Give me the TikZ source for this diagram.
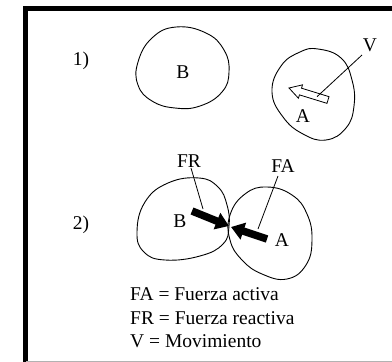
\documentclass[tikz,border=0pt]{standalone}
\usepackage{fontspec}
\setmainfont{Liberation Serif}
\usetikzlibrary{calc,arrows.meta}
\begin{document}
\begin{tikzpicture}[x=1pt,y=-1pt,
  lbl/.style={inner sep=0pt, font=\fontsize{19.5}{23}\selectfont},
  blob/.style={draw, line width=0.9pt},
  pointer/.style={draw, line width=0.8pt},
  push/.style={line width=7.5pt, -{Triangle[length=13pt,width=17pt]}},
  frameline/.style={line width=4.5pt}
]
\useasboundingbox (0,0) rectangle (392,362);
% frame
\draw[frameline] (25.5,362) -- (25.5,8.5) -- (392,8.5);
\draw[gray!60, line width=0.8pt] (26,361) -- (392,361);

% ---------- 1) ----------
\node[lbl] (n1) at (81,61) {1)};
\draw[blob] plot[smooth cycle, tension=0.75] coordinates {
  (176,27) (206,33) (224,50) (229,72) (222,92) (200,106) (175,108)
  (152,101) (138,85) (138,62) (152,38)};
\node[lbl] (B1) at (183,72) {B};
\draw[blob] plot[smooth cycle, tension=0.75] coordinates {
  (318,49) (341,58) (352,80) (354,106) (346,128) (326,140)
  (303,134) (283,117) (272,92) (281,66) (300,52)};
\node[lbl] (A1) at (303,116) {A};
% hollow arrow
\coordinate (va) at (328,100);
\coordinate (vb) at (289,88);
\coordinate (vh) at ($(vb)!12pt!(va)$);
\filldraw[fill=white, line width=0.8pt]
  ($(va)!3.5pt!90:(vb)$) -- ($(vh)!3.5pt!-90:(va)$) -- ($(vh)!7pt!-90:(va)$)
  -- (vb) -- ($(vh)!7pt!90:(va)$) -- ($(vh)!3.5pt!90:(va)$)
  -- ($(va)!3.5pt!-90:(vb)$) -- cycle;
\coordinate (vend) at ($(va)!0.28!(vb)$);
\node[lbl] (V) at (370,45) {V};
\coordinate (vstart) at (362,55);
\draw[pointer] (vstart) -- (vend);

% ---------- 2) ----------
\node[lbl] (n2) at (81,225) {2)};
\draw[blob] plot[smooth cycle, tension=0.75] coordinates {
  (199,178) (218,187) (227,205) (229,226) (223,244) (200,256)
  (165,260) (144,252) (137,232) (145,202) (168,183)};
\node[lbl] (B2) at (180,221) {B};
\draw[blob] plot[smooth cycle, tension=0.75] coordinates {
  (267,187) (292,195) (307,214) (312,240) (306,265) (287,279)
  (262,274) (242,260) (230,240) (230,215) (245,194)};
\node[lbl] (A2) at (282,240) {A};
% push arrows
\coordinate (frtail) at (192,211);
\coordinate (frtip) at (229,226);
\coordinate (fatail) at (267,239);
\coordinate (fatip) at (231,227);
\draw[push] (frtail) -- (frtip);
\draw[push] (fatail) -- (fatip);
% labels
\node[lbl] (FR) at (189,161) {FR};
\node[lbl] (FA) at (283,166) {FA};
\coordinate (frs) at (191,168);
\coordinate (fre) at (203,209);
\coordinate (fas) at (278,176);
\coordinate (fae) at (258,229);
\draw[pointer] (frs) -- (fre);
\draw[pointer] (fas) -- (fae);

% legend
\node[lbl, anchor=base west] (L1) at (130,300) {FA = Fuerza activa};
\node[lbl, anchor=base west] (L2) at (130,324) {FR = Fuerza reactiva};
\node[lbl, anchor=base west] (L3) at (130,347) {V = Movimiento};
\end{tikzpicture}
\end{document}
